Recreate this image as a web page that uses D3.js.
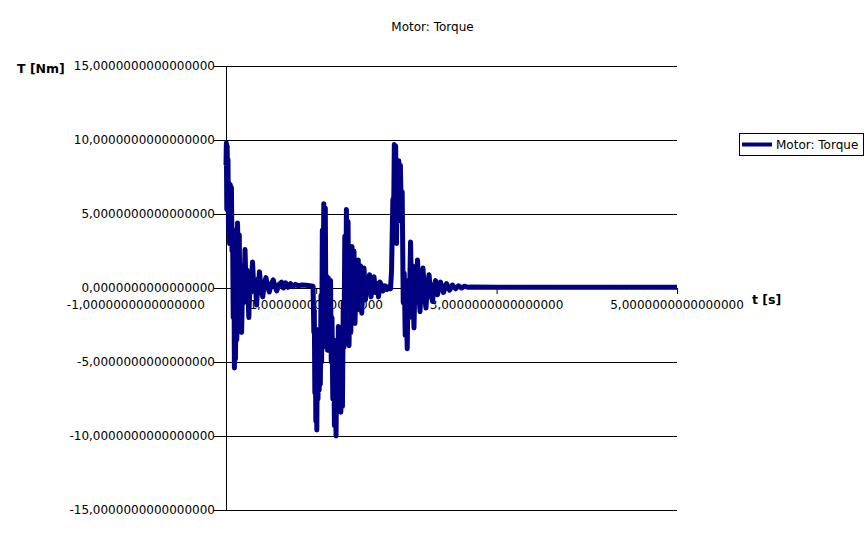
<!DOCTYPE html>
<html>
<head>
<meta charset="utf-8">
<script src="https://cdn.jsdelivr.net/npm/d3@7"></script>
<style>
  html, body { margin: 0; padding: 0; background: #fff; }
  svg { display: block; }
  text { font-family: "DejaVu Sans", sans-serif; }
</style>
</head>
<body>
<svg id="chart" width="867" height="548"></svg>
<script>
// ---- data ----
const chartTitle = "Motor: Torque";
const seriesName = "Motor: Torque";
const yAxisTitle = "T [Nm]";
const xAxisTitle = "t [s]";

const yTicks = [15, 10, 5, 0, -5, -10, -15];
const yTickLabels = ["15,0000000000000000", "10,0000000000000000", "5,0000000000000000",
  "0,0000000000000000", "-5,0000000000000000", "-10,0000000000000000", "-15,0000000000000000"];
const xTicks = [-1, 1, 3, 5];
const xTickLabels = ["-1,0000000000000000", "1,0000000000000000", "3,0000000000000000", "5,0000000000000000"];

const time = [
  0.000, 0.004, 0.009, 0.013, 0.018, 0.022, 0.028, 0.033, 0.040, 0.047,
  0.053, 0.060, 0.067, 0.073, 0.080, 0.087, 0.093, 0.100, 0.105, 0.113,
  0.120, 0.128, 0.139, 0.147, 0.155, 0.164, 0.173, 0.186, 0.195, 0.211,
  0.224, 0.235, 0.253, 0.268, 0.277, 0.294, 0.310, 0.322, 0.340, 0.355,
  0.361, 0.371, 0.388, 0.407, 0.425, 0.443, 0.461, 0.480, 0.503, 0.524,
  0.543, 0.562, 0.588, 0.616, 0.637, 0.660, 0.687, 0.715, 0.743, 0.770,
  0.798, 0.843, 0.887, 0.931, 0.965,
  0.974, 0.979, 0.985, 0.990, 0.996, 1.001, 1.007, 1.013, 1.020, 1.027,
  1.033, 1.040, 1.046, 1.053, 1.060, 1.068, 1.075, 1.084, 1.093, 1.101,
  1.109, 1.117, 1.125, 1.134, 1.142, 1.150, 1.159, 1.167, 1.175, 1.184,
  1.193, 1.202, 1.211, 1.220, 1.229, 1.237, 1.246, 1.255, 1.264, 1.273,
  1.282, 1.291, 1.300, 1.308, 1.317, 1.326, 1.335, 1.344, 1.353, 1.364,
  1.375, 1.384, 1.397, 1.408, 1.419, 1.430, 1.443, 1.452, 1.466, 1.479,
  1.491, 1.505, 1.519, 1.530, 1.546, 1.563, 1.574, 1.591, 1.608, 1.624,
  1.641, 1.657, 1.674, 1.691, 1.707, 1.724, 1.741, 1.763, 1.785, 1.807,
  1.824, 1.835,
  1.850, 1.857, 1.866, 1.874, 1.881, 1.890, 1.899, 1.907, 1.916, 1.925,
  1.933, 1.944, 1.953, 1.965, 1.976, 1.987, 1.998, 2.009, 2.020, 2.031,
  2.046, 2.057, 2.068, 2.084, 2.095, 2.106, 2.123, 2.140, 2.151, 2.167,
  2.184, 2.201, 2.217, 2.234, 2.251, 2.267, 2.290, 2.306, 2.323, 2.345,
  2.378, 2.412, 2.445, 2.479, 2.511, 2.545, 2.578, 2.611, 2.645, 2.678,
  2.728, 3.000, 3.500, 4.000, 4.500, 5.000
];
const torque = [
  8.3, 9.8, 5.3, 9.6, 5.6, 8.7, 3.8, 7.1, 3.0, 7.0,
  3.3, 6.8, 2.5, 4.0, -2.0, 3.0, -5.4, 1.0, -4.8, 2.0,
  -3.5, 4.4, -1.0, 3.6, -2.2, 1.5, -3.0, 1.0, -1.0, 2.6,
  -0.5, 1.2, -2.0, 0.8, -0.3, 1.75, -0.2, 0.5, -1.15, 0.6,
  0.2, 1.1, 0.0, -0.6, 0.3, 0.7, 0.1, -0.27, 0.3, 0.55,
  0.1, -0.2, 0.25, 0.4, 0.0, 0.35, 0.05, 0.3, 0.1, 0.25,
  0.15, 0.2, 0.18, 0.15, 0.12,
  -3.0, -1.5, -7.1, -3.0, -9.0, -5.0, -9.6, -3.5, -7.5, -2.8,
  -6.9, -3.5, -6.5, -0.5, -5.0, 3.9, -2.0, 5.7, -1.5, 5.4,
  -4.0, 0.8, -4.2, 0.7, -3.0, -0.2, 0.5, -5.0, -2.0, -7.5,
  -3.5, -9.3, -5.0, -10.0, -4.0, -8.0, -2.6, -7.0, -4.0, -8.4,
  -3.0, -8.0, -1.0, -4.0, 3.5, -2.5, 5.3, -1.0, 4.5, -3.9,
  1.0, -3.0, 2.8, -1.0, 2.5, -2.4, 1.0, -1.5, 1.9, -0.5,
  1.5, -1.7, 0.5, 1.35, -0.8, 0.6, 0.0, 0.9, -0.6, 0.4,
  0.75, -0.3, 0.3, -0.6, 0.4, 0.2, -0.2, 0.15, -0.1, 0.1,
  -0.05, 1.1,
  6.0, 4.0, 9.7, 6.0, 9.6, 3.0, 7.5, 4.5, 8.6, 5.5,
  8.3, 5.0, 6.5, -1.0, 1.0, -3.2, -1.0, -4.1, 0.5, -2.0,
  3.1, -0.5, 1.5, -2.7, 0.5, -0.8, 1.9, -0.5, -1.6, 0.5,
  1.35, -0.5, -1.35, 0.2, 0.9, -0.3, -0.9, 0.1, 0.5, -0.45,
  0.4, -0.3, 0.3, -0.15, 0.2, -0.05, 0.15, 0.0, 0.12, 0.05,
  0.06, 0.05, 0.05, 0.05, 0.05, 0.05
];

// ---- layout ----
const svg = d3.select("#chart");
const plotLeft = 226, plotRight = 677, plotTop = 66, plotBottom = 510;
const x = d3.scaleLinear().domain([0, 5]).range([plotLeft, plotRight]);
const y = d3.scaleLinear().domain([-15, 15]).range([plotBottom, plotTop]);
const lineColor = "#000080";

// title
svg.append("text")
  .attr("x", 432.5).attr("y", 31)
  .attr("text-anchor", "middle")
  .attr("font-size", 12)
  .text(chartTitle);

// horizontal grid lines
svg.append("g").selectAll("line")
  .data(yTicks).join("line")
  .attr("x1", plotLeft - 12).attr("x2", plotRight)
  .attr("y1", d => y(d) + 0.5).attr("y2", d => y(d) + 0.5)
  .attr("stroke", "#000").attr("stroke-width", 1);

// y axis labels
svg.append("g").selectAll("text")
  .data(yTicks).join("text")
  .attr("x", 215)
  .attr("y", d => y(d))
  .attr("dy", "0.35em")
  .attr("text-anchor", "end")
  .attr("font-size", 12)
  .text((d, i) => yTickLabels[i]);

// vertical axis line
svg.append("line")
  .attr("x1", plotLeft + 0.5).attr("x2", plotLeft + 0.5)
  .attr("y1", plotTop).attr("y2", plotBottom)
  .attr("stroke", "#000").attr("stroke-width", 1);

// x ticks
svg.append("g").selectAll("line")
  .data(xTicks.filter(d => d >= 0)).join("line")
  .attr("x1", d => x(d) + 0.5).attr("x2", d => x(d) + 0.5)
  .attr("y1", y(0)).attr("y2", y(0) + 6)
  .attr("stroke", "#000");

// x axis labels
svg.append("g").selectAll("text")
  .data(xTicks).join("text")
  .attr("x", d => x(d))
  .attr("y", y(0) + 17)
  .attr("dy", "0.35em")
  .attr("text-anchor", "middle")
  .attr("font-size", 12)
  .text((d, i) => xTickLabels[i]);

// series line
const pts = time.map((t, i) => [t, torque[i]]);
svg.append("path")
  .datum(pts)
  .attr("fill", "none")
  .attr("stroke", lineColor)
  .attr("stroke-width", 5)
  .attr("stroke-linejoin", "round")
  .attr("d", d3.line().x(d => x(d[0])).y(d => y(d[1])));

// axis titles
svg.append("text")
  .attr("x", 17).attr("y", 73)
  .attr("font-size", 12.5).attr("font-weight", "bold")
  .text(yAxisTitle);
svg.append("text")
  .attr("x", 752).attr("y", 304)
  .attr("font-size", 12.5).attr("font-weight", "bold")
  .text(xAxisTitle);

// legend
const lg = svg.append("g");
lg.append("rect")
  .attr("x", 739.5).attr("y", 133.5).attr("width", 124).attr("height", 22)
  .attr("fill", "#fff").attr("stroke", "#000");
lg.append("line")
  .attr("x1", 742).attr("x2", 772).attr("y1", 144.5).attr("y2", 144.5)
  .attr("stroke", lineColor).attr("stroke-width", 4);
lg.append("text")
  .attr("x", 776).attr("y", 144.5).attr("dy", "0.35em")
  .attr("font-size", 12)
  .text(seriesName);
</script>
</body>
</html>
